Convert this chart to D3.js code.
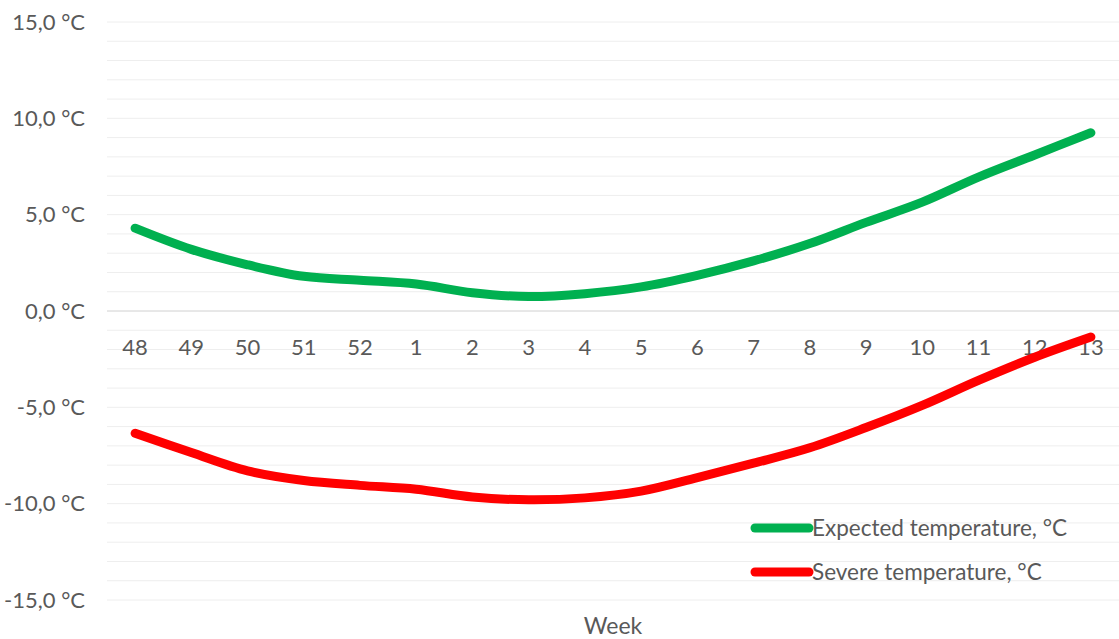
<!DOCTYPE html>
<html>
<head>
<meta charset="utf-8">
<script src="https://cdn.jsdelivr.net/npm/d3@7"></script>
<style>
  html, body { margin: 0; padding: 0; background: #fff; }
  text { font-family: Lato, "Noto Sans", sans-serif; fill: #595959; }
</style>
</head>
<body>
<div id="chart"></div>
<script>
// data
var weeks = ["48", "49", "50", "51", "52", "1", "2", "3", "4", "5", "6", "7", "8", "9", "10", "11", "12", "13"];
var expected = [4.3, 3.2, 2.4, 1.8, 1.6, 1.4, 0.95, 0.75, 0.9, 1.25, 1.85, 2.6, 3.5, 4.6, 5.65, 6.95, 8.1, 9.25];
var severe = [-6.35, -7.35, -8.3, -8.8, -9.05, -9.25, -9.65, -9.8, -9.7, -9.35, -8.65, -7.9, -7.1, -6.05, -4.9, -3.6, -2.4, -1.35];
var yTicks = [-15, -10, -5, 0, 5, 10, 15];
var seriesNames = ["Expected temperature, °C", "Severe temperature, °C"];
var seriesColors = ["#00b050", "#ff0000"];

var width = 1119,
    height = 639;
var plot = { left: 107, right: 1119, top: 22, bottom: 600 };

var x = d3.scaleBand().domain(weeks).range([plot.left, plot.right]);
var y = d3.scaleLinear().domain([-15, 15]).range([plot.bottom, plot.top]);

var svg = d3.select("#chart").append("svg")
    .attr("width", width)
    .attr("height", height);

// gridlines every 1 degree
svg.append("g")
  .selectAll("line")
  .data(d3.range(-15, 16))
  .enter().append("line")
    .attr("x1", plot.left)
    .attr("x2", plot.right)
    .attr("y1", function(d) { return y(d); })
    .attr("y2", function(d) { return y(d); })
    .style("stroke", function(d) { return d === 0 ? "#d0d0d0" : "#eeeeee"; })
    .style("stroke-width", 1);

// y axis labels
var fmt = function(d) { return d3.format(".1f")(d).replace(".", ",").replace("−", "-") + " °C"; };
var yAxis = svg.append("g")
    .attr("transform", "translate(" + plot.left + ",0)")
    .call(d3.axisLeft(y).tickValues(yTicks).tickSize(0).tickPadding(22).tickFormat(fmt));
yAxis.select(".domain").remove();
yAxis.selectAll("text").style("font-size", "22px").style("fill", "#595959").style("font-family", "Lato, 'Noto Sans', sans-serif");

// x axis labels along zero line
var xAxis = svg.append("g")
    .attr("transform", "translate(0," + y(0) + ")")
    .call(d3.axisBottom(x).tickSize(0).tickPadding(28));
xAxis.select(".domain").remove();
xAxis.selectAll("text").style("font-size", "22px").style("fill", "#595959").style("font-family", "Lato, 'Noto Sans', sans-serif");

// axis title
svg.append("text")
  .attr("x", (plot.left + plot.right) / 2)
  .attr("y", 634)
  .attr("text-anchor", "middle")
  .style("font-size", "23px")
  .text("Week");

// lines
var line = d3.line()
    .curve(d3.curveCatmullRom.alpha(0.5))
    .x(function(d, i) { return x(weeks[i]) + x.bandwidth() / 2; })
    .y(function(d) { return y(d); });

[expected, severe].forEach(function(values, i) {
  svg.append("path")
    .datum(values)
    .attr("d", line)
    .style("fill", "none")
    .style("stroke", seriesColors[i])
    .style("stroke-width", 9)
    .style("stroke-linecap", "round")
    .style("stroke-linejoin", "round");
});

// legend
var legend = svg.append("g")
  .selectAll("g")
  .data(seriesNames)
  .enter().append("g")
    .attr("transform", function(d, i) { return "translate(755," + (528 + i * 44) + ")"; });

legend.append("line")
  .attr("x1", 0)
  .attr("x2", 54)
  .style("stroke", function(d, i) { return seriesColors[i]; })
  .style("stroke-width", 9)
  .style("stroke-linecap", "round");

legend.append("text")
  .attr("x", 57)
  .attr("dy", "0.35em")
  .style("font-size", "22.5px")
  .text(function(d) { return d; });
</script>
</body>
</html>
